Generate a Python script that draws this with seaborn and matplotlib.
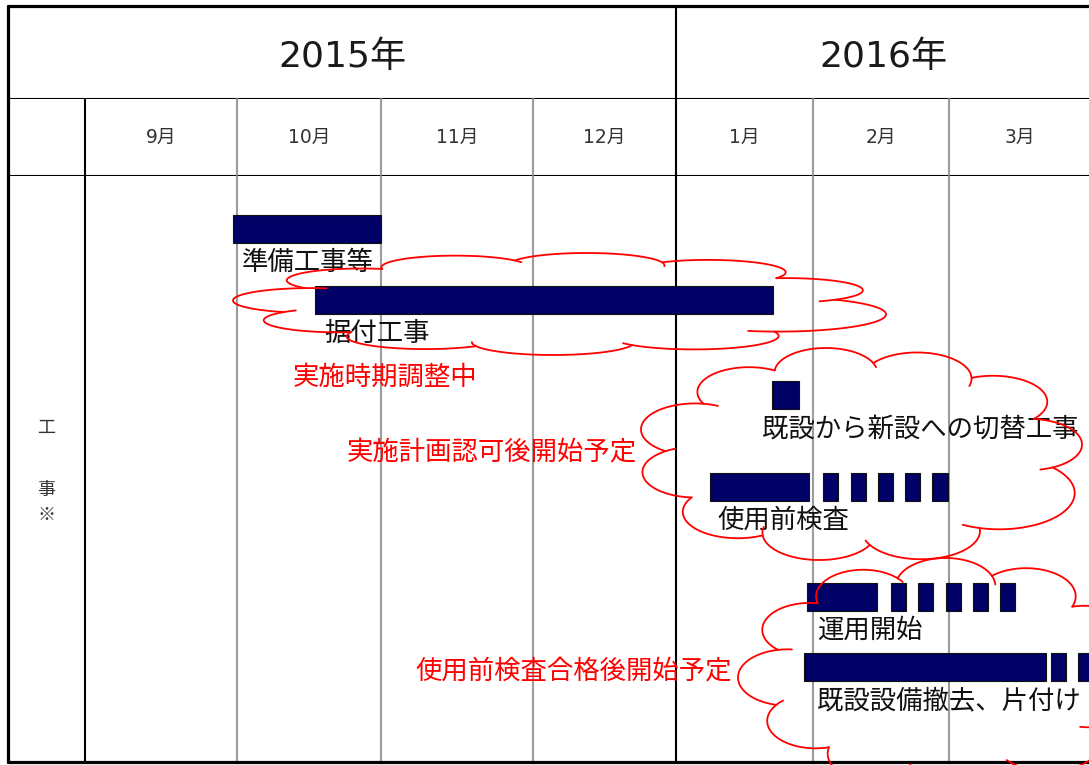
import numpy as np
import pandas as pd
import matplotlib
matplotlib.use("Agg")
import matplotlib.pyplot as plt
import seaborn as sns

# ---------------- data ----------------
years = ["2015年", "2016年"]
year_from = [-1, 4]          # month-unit span of each year cell (-1..0 = label column)
year_to = [4, 7]
months = ["9月", "10月", "11月", "12月", "1月", "2月", "3月"]
section_chars = ["工", "事", "※"]
section_rows = [4.30, 5.36, 5.79]

tasks = ["準備工事等", "据付工事", "既設から新設への切替工事",
         "使用前検査", "運用開始", "既設設備撤去、片付け"]
task_row = [0.90, 2.12, 3.74, 5.31, 7.18, 8.38]
task_start = [0.974, 1.542, 4.701, 4.248, 4.956, 4.934]
task_end = [2.000, 4.708, 4.898, 4.971, 5.471, 6.688]
label_start = [1.035, 1.604, 4.628, 4.299, 5.029, 5.029]

# intermittent (planned) pieces
seg_task = ["使用前検査"] * 5 + ["運用開始"] * 5 + ["既設設備撤去、片付け"] * 2
seg_start = [5.074, 5.279, 5.478, 5.676, 5.875,
             5.574, 5.772, 5.978, 6.170, 6.362,
             6.723, 6.915]
seg_end = [5.184, 5.390, 5.588, 5.787, 5.993,
           5.684, 5.882, 6.085, 6.277, 6.468,
           6.830, 7.050]

notes = ["実施時期調整中", "実施計画認可後開始予定", "使用前検査合格後開始予定"]
note_x = [1.389, 1.764, 2.224]
note_row = [3.43, 4.71, 8.45]

# ---------------- layout ----------------
W, H = 1089, 765
col_edges_px = [8, 85, 237, 381, 533, 676, 813, 949, 1090]
col_edges_unit = list(range(-1, 8))
Y_TOP, Y_MID, Y_BODY, Y_BOT = 6, 99, 176, 762
BODY_ROWS = 10.0

NAVY = "#000066"
RED = "#ff0000"
GRAY = "#9c9c9c"
THICK = 2.3
THIN = 1.5

sns.set_theme(style="white")
plt.rcParams["font.family"] = ["Noto Sans CJK JP", "DejaVu Sans"]

df = pd.DataFrame({"task": tasks, "row": task_row, "start": task_start,
                   "end": task_end, "lab": label_start})
seg = pd.DataFrame({"task": seg_task, "start": seg_start, "end": seg_end})
seg = seg.merge(df[["task", "row"]], on="task")

fwd = lambda x: np.interp(x, col_edges_unit, col_edges_px)
inv = lambda p: np.interp(p, col_edges_px, col_edges_unit)
mid = lambda a, b: float(inv((fwd(a) + fwd(b)) / 2))

fig = plt.figure(figsize=(W / 100, H / 100), dpi=100)
fig.patch.set_facecolor("white")

def make_ax(ytop, ybot):
    left = col_edges_px[0] / W
    width = (col_edges_px[-1] - col_edges_px[0]) / W
    ax = fig.add_axes([left, 1 - ybot / H, width, (ybot - ytop) / H])
    ax.set_xscale("function", functions=(fwd, inv))
    ax.set_xlim(-1, 7)
    ax.set_xticks([]); ax.set_yticks([])
    for s in ax.spines.values():
        s.set_visible(False)
    ax.set_facecolor("white")
    return ax

ax_y = make_ax(Y_TOP, Y_MID)
ax_m = make_ax(Y_MID, Y_BODY)
ax_b = make_ax(Y_BODY, Y_BOT)
ax_y.set_ylim(0, 1)
ax_m.set_ylim(0, 1)
ax_b.set_ylim(BODY_ROWS, 0)

# table lines
for ax in (ax_y, ax_m, ax_b):
    ax.axvline(-1, color="black", lw=THICK, clip_on=False)
    ax.axvline(4, color="black", lw=THIN, clip_on=False)
for ax in (ax_m, ax_b):
    ax.axvline(0, color="black", lw=THIN, clip_on=False)
    for e in (1, 2, 3, 5, 6):
        ax.axvline(e, color=GRAY, lw=THIN, clip_on=False)
ax_y.axhline(1, color="black", lw=THICK, clip_on=False)
ax_y.axhline(0, color="black", lw=THIN, clip_on=False)
ax_m.axhline(0, color="black", lw=THIN, clip_on=False)
ax_b.axhline(BODY_ROWS, color="black", lw=THICK, clip_on=False)

# headers
for name, a, b in zip(years, year_from, year_to):
    ax_y.text(mid(a, b), 0.45, name, ha="center", va="center",
              fontsize=26, color="#1a1a1a",
              family=["DejaVu Sans", "Noto Sans CJK JP"])
for i, mname in enumerate(months):
    ax_m.text(mid(i, i + 1), 0.50, mname, ha="center", va="center",
              fontsize=13.5, color="#333333",
              family=["DejaVu Sans", "Noto Sans CJK JP"])
for ch, r in zip(section_chars, section_rows):
    ax_b.text(mid(-1, 0), r, ch, ha="center", va="center",
              fontsize=13, color="#333333")

# bars
BAR_H = 0.48
ax_b.barh(df["row"], df["end"] - df["start"], left=df["start"], height=BAR_H,
          color=NAVY, edgecolor="#111111", linewidth=0.8, zorder=3)
ax_b.barh(seg["row"], seg["end"] - seg["start"], left=seg["start"], height=BAR_H,
          color=NAVY, edgecolor="#111111", linewidth=0.8, zorder=3)

for _, r in df.iterrows():
    ax_b.text(r["lab"], r["row"] + 0.57, r["task"], ha="left", va="center",
              fontsize=19, color="#111111", zorder=4)
for t, x, r in zip(notes, note_x, note_row):
    ax_b.text(x, r, t, ha="left", va="center", fontsize=19, color=RED, zorder=4)

# clouds (annotation shapes) on a pixel canvas
ax_c = fig.add_axes([0, 0, 1, 1], zorder=10)
ax_c.set_xlim(0, W); ax_c.set_ylim(H, 0); ax_c.axis("off")
ax_c.patch.set_alpha(0)

CLOUD_ANG = [0, 31, 63, 94, 124, 154, 186, 216, 248, 281, 316]
CLOUD_RAD = [1.0, 0.97, 1.0, 0.98, 1.0, 0.97, 1.0, 0.98, 1.0, 0.97, 1.0]
CLOUD_PHI = [148, 155, 142, 152, 148, 156, 142, 150, 148, 156, 150]
CLOUD_HOOK = [14, 0, 18, 10, 0, 16, 12, 0, 18, 10, 14]

def cloud(bx0, bx1, by0, by1, rot=0.0):
    ang = np.deg2rad(np.array(CLOUD_ANG) + rot)
    rr = np.array(CLOUD_RAD)
    pts = np.column_stack([rr * np.cos(ang), rr * np.sin(ang)])
    n = len(pts)
    arcs = []
    for i in range(n):
        p, q = pts[i], pts[(i + 1) % n]
        m = (p + q) / 2
        v = q - p
        c = np.hypot(*v)
        nrm = np.array([v[1], -v[0]]) / c
        if nrm @ m < 0:
            nrm = -nrm
        phi = np.deg2rad(CLOUD_PHI[i])
        R = c / (2 * np.sin(phi / 2))
        d = R * np.cos(phi / 2)
        ctr = m - nrm * d
        a0 = np.arctan2(p[1] - ctr[1], p[0] - ctr[0])
        a1 = np.arctan2(q[1] - ctr[1], q[0] - ctr[0])
        amid = np.arctan2(nrm[1], nrm[0])
        ccw = (a1 - a0) % (2 * np.pi)
        if (amid - a0) % (2 * np.pi) < ccw:
            sweep = ccw
        else:
            sweep = -((a0 - a1) % (2 * np.pi))
        hook = np.deg2rad(CLOUD_HOOK[i]) * np.sign(sweep)
        t = np.linspace(a0 - hook, a0 + sweep, 90)
        arcs.append(ctr + R * np.column_stack([np.cos(t), np.sin(t)]))
    allp = np.vstack(arcs)
    xmin, ymin = allp.min(axis=0)
    xmax, ymax = allp.max(axis=0)
    for a in arcs:
        X = bx0 + (a[:, 0] - xmin) / (xmax - xmin) * (bx1 - bx0)
        Y = by0 + (ymax - a[:, 1]) / (ymax - ymin) * (by1 - by0)
        ax_c.plot(X, Y, color=RED, lw=1.3, solid_capstyle="round")

cloud(233, 886, 253, 355, rot=5)
cloud(641, 1082, 348, 560, rot=-8)
cloud(738, 1160, 558, 790, rot=12)

fig.savefig("out.png", dpi=100, facecolor="white")
